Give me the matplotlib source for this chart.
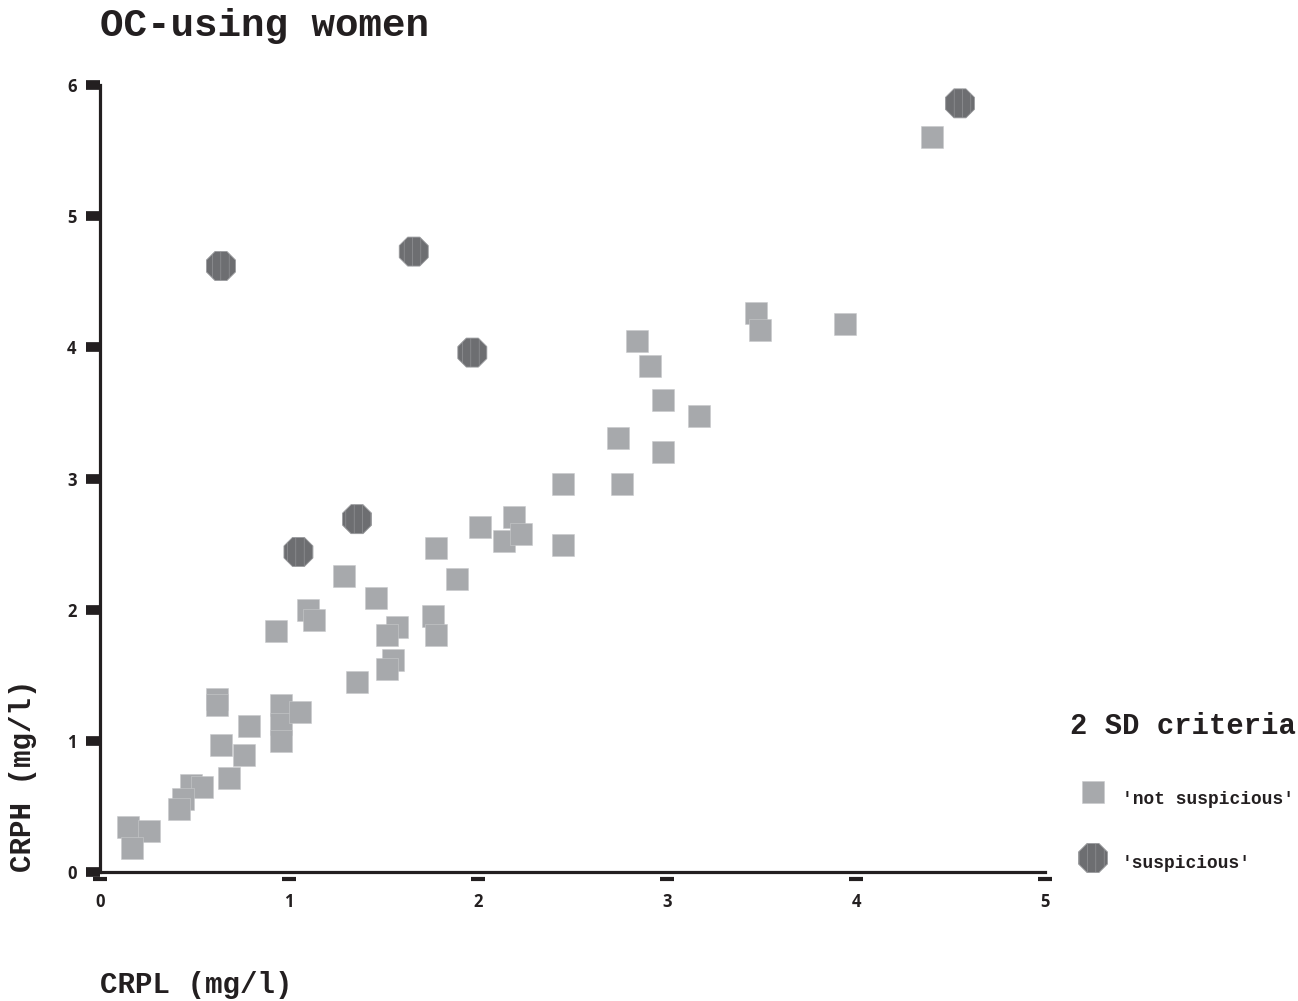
import matplotlib
matplotlib.use("Agg")
import matplotlib.pyplot as plt

# CRPL (x) and CRPH (y) values, mg/l
not_susp_x = [4.40, 3.47, 3.49, 3.94, 2.84, 2.91, 2.98, 3.17, 2.74, 2.98,
              2.45, 2.76, 2.45, 2.01, 2.19, 2.14, 2.23, 1.78, 1.89, 1.29,
              1.46, 1.10, 1.13, 0.93, 1.76, 1.78, 1.57, 1.52, 1.55, 1.52,
              1.36, 0.62, 0.62, 0.96, 0.96, 0.96, 1.06, 0.79, 0.64, 0.76,
              0.68, 0.48, 0.54, 0.44, 0.42, 0.15, 0.26, 0.17]
not_susp_y = [5.60, 4.26, 4.13, 4.18, 4.05, 3.86, 3.60, 3.48, 3.31, 3.20,
              2.96, 2.96, 2.49, 2.63, 2.71, 2.52, 2.58, 2.47, 2.23, 2.26,
              2.09, 2.00, 1.92, 1.84, 1.95, 1.81, 1.87, 1.81, 1.62, 1.55,
              1.45, 1.32, 1.27, 1.27, 1.13, 1.00, 1.22, 1.11, 0.97, 0.89,
              0.72, 0.66, 0.65, 0.56, 0.48, 0.34, 0.31, 0.18]

susp_x = [0.64, 1.66, 1.97, 1.36, 1.05, 4.55]
susp_y = [4.62, 4.73, 3.96, 2.69, 2.44, 5.86]

x_ticks = [0, 1, 2, 3, 4, 5]
y_ticks = [0, 1, 2, 3, 4, 5, 6]

dark = "#231f20"
sq_color = "#a7a9ac"
oct_color = "#6d6e71"
mono = "Liberation Mono"
sans = "Open Sans"

plt.rcParams["hatch.linewidth"] = 0.4

W, H = 1298, 1001
fig = plt.figure(figsize=(W / 100, H / 100), dpi=100)
ax = fig.add_axes([100 / W, 1 - 872 / H, 945 / W, 787 / H])

ax.scatter(not_susp_x, not_susp_y, marker="s", s=15.8 ** 2, c=sq_color,
           edgecolors="#c9cacc", linewidths=0.4, zorder=3)
ax.scatter(susp_x, susp_y, marker="8", s=22.6 ** 2, c=oct_color,
           edgecolors="#9a9b9e", linewidths=0.6, hatch="||", zorder=4)

ax.set_xlim(0, 5)
ax.set_ylim(0, 6)
for side in ["top", "right"]:
    ax.spines[side].set_visible(False)
for side in ["left", "bottom"]:
    ax.spines[side].set_linewidth(2.3)
    ax.spines[side].set_color(dark)

ax.set_xticks(x_ticks)
ax.set_yticks(y_ticks)
ax.tick_params(axis="y", direction="out", length=10, width=7, color=dark, pad=7)
ax.tick_params(axis="x", length=0, pad=15)
# x ticks are short dashes sitting just under the axis line
ax.plot(x_ticks, [-0.009] * len(x_ticks), ls="none", marker="_", ms=10,
        mew=3, color=dark, transform=ax.get_xaxis_transform(), clip_on=False)
for lab in ax.get_xticklabels() + ax.get_yticklabels():
    lab.set_fontfamily(sans)
    lab.set_fontweight("bold")
    lab.set_fontsize(12)
    lab.set_color(dark)

fig.text(100 / W, 1 - 36 / H, "OC-using women", fontsize=28.3, family=mono,
         weight="bold", color=dark, va="baseline")
fig.text(100 / W, 1 - 993 / H, "CRPL (mg/l)", fontsize=21, family=mono,
         weight="bold", color=dark, va="baseline")
fig.text(23 / W, 1 - 872 / H, "CRPH (mg/l)", fontsize=21, family=mono,
         weight="bold", color=dark, rotation=90, ha="center", va="bottom")

# legend, drawn by hand
fig.text(1070 / W, 1 - 726 / H, "2 SD criteria", fontsize=20.8, family=mono,
         weight="bold", color=dark, va="center")
ax.scatter([1093 / W], [1 - 792 / H], marker="s", s=15.8 ** 2, c=sq_color,
           edgecolors="#c9cacc", linewidths=0.4, transform=fig.transFigure,
           clip_on=False)
ax.scatter([1093 / W], [1 - 858 / H], marker="8", s=22.6 ** 2, c=oct_color,
           edgecolors="#9a9b9e", linewidths=0.6, hatch="||",
           transform=fig.transFigure, clip_on=False)
fig.text(1122 / W, 1 - 800 / H, "'not suspicious'", fontsize=12.9, family=mono,
         weight="bold", color=dark, va="center")
fig.text(1122 / W, 1 - 864 / H, "'suspicious'", fontsize=12.9, family=mono,
         weight="bold", color=dark, va="center")

fig.savefig("out.png", dpi=100)
